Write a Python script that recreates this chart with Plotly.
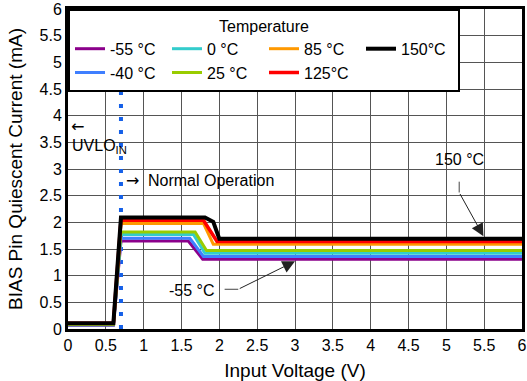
import plotly.graph_objects as go

# ---- data ----
temps = ["-55 °C", "-40 °C", "0 °C", "25 °C", "85 °C", "125°C", "150°C"]
colors = ["#8B008B", "#3F7FFF", "#33CCCC", "#99CC00", "#FF9900", "#FF0000", "#000000"]
widths = [3, 3, 3, 3, 3, 3.5, 4]
legend_rank = [1, 5, 2, 6, 3, 7, 4]

v_m55 = [0, 0.6, 0.7, 1.59, 1.78, 6]
i_m55 = [0.07, 0.07, 1.65, 1.65, 1.31, 1.31]
v_m40 = [0, 0.6, 0.7, 1.61, 1.79, 6]
i_m40 = [0.08, 0.08, 1.70, 1.70, 1.36, 1.36]
v_0 = [0, 0.6, 0.7, 1.66, 1.81, 6]
i_0 = [0.08, 0.08, 1.77, 1.77, 1.42, 1.42]
v_25 = [0, 0.6, 0.7, 1.68, 1.83, 6]
i_25 = [0.09, 0.09, 1.82, 1.82, 1.47, 1.47]
v_85 = [0, 0.6, 0.7, 1.79, 1.92, 6]
i_85 = [0.1, 0.1, 1.98, 1.98, 1.59, 1.59]
v_125 = [0, 0.6, 0.7, 1.79, 1.97, 6]
i_125 = [0.11, 0.11, 2.04, 2.04, 1.64, 1.64]
v_150 = [0, 0.6, 0.7, 1.81, 1.92, 2.0, 6]
i_150 = [0.11, 0.11, 2.09, 2.09, 2.01, 1.69, 1.69]

volts = [v_m55, v_m40, v_0, v_25, v_85, v_125, v_150]
currents = [i_m55, i_m40, i_0, i_25, i_85, i_125, i_150]

uvlo_v = [0.7, 0.7]
uvlo_i = [0, 6]

x_ticks = [0, 0.5, 1, 1.5, 2, 2.5, 3, 3.5, 4, 4.5, 5, 5.5, 6]
y_ticks = [0, 0.5, 1, 1.5, 2, 2.5, 3, 3.5, 4, 4.5, 5, 5.5, 6]

FONT = "Liberation Sans, Arial, sans-serif"
ARROW_FONT = "DejaVu Sans, sans-serif"

fig = go.Figure()

fig.add_trace(go.Scatter(
    x=uvlo_v, y=uvlo_i, mode="lines", showlegend=False, hoverinfo="skip",
    line=dict(color="#1560E8", width=4, dash="4px,9px"),
))

for name, c, w, r, xs, ys in zip(temps, colors, widths, legend_rank, volts, currents):
    fig.add_trace(go.Scatter(
        x=xs, y=ys, mode="lines", name=name, legendrank=r,
        line=dict(color=c, width=w),
    ))

annos = [
    dict(x=5.18, y=3.17, text="150 °C", showarrow=False, font=dict(size=16)),
    dict(x=1.64, y=0.73, text="-55 °C", showarrow=False, font=dict(size=16)),
    dict(x=0.01, y=3.8, text="←", showarrow=False, xanchor="left",
         font=dict(size=16, family=ARROW_FONT)),
    dict(x=0.02, y=3.43, text="UVLO<sub>IN</sub>", showarrow=False, xanchor="left", font=dict(size=16)),
    dict(x=0.74, y=2.79, text="→", showarrow=False, xanchor="left",
         font=dict(size=16, family=ARROW_FONT)),
    dict(x=1.03, y=2.79, text="Normal Operation", showarrow=False, xanchor="left", font=dict(size=16)),
    # 150 °C arrow
    dict(x=5.17, y=2.56, ax=5.17, ay=2.79, axref="x", ayref="y", text="", showarrow=True,
         arrowhead=0, arrowwidth=1, arrowcolor="#444"),
    dict(x=5.49, y=1.74, ax=5.17, ay=2.56, axref="x", ayref="y", text="", showarrow=True,
         arrowhead=2, arrowsize=2.5, arrowwidth=1, arrowcolor="#222"),
    # -55 °C arrow
    dict(x=2.25, y=0.745, ax=2.05, ay=0.745, axref="x", ayref="y", text="", showarrow=True,
         arrowhead=0, arrowwidth=1, arrowcolor="#444"),
    dict(x=3.0, y=1.27, ax=2.25, ay=0.745, axref="x", ayref="y", text="", showarrow=True,
         arrowhead=2, arrowsize=2.5, arrowwidth=1, arrowcolor="#222"),
]

fig.update_layout(
    width=527, height=381,
    margin=dict(l=68, r=5, t=9, b=52, autoexpand=False),
    paper_bgcolor="white", plot_bgcolor="white",
    font=dict(family=FONT, size=16, color="black"),
    annotations=annos,
    legend=dict(
        orientation="h", x=0, y=1, xanchor="left", yanchor="top",
        bgcolor="white", bordercolor="black", borderwidth=2,
        entrywidth=52, entrywidthmode="pixels",
        title=dict(text="Temperature", side="top center", font=dict(size=16)),
        font=dict(size=16), tracegroupgap=0,
    ),
    xaxis=dict(
        range=[0, 6], tickvals=x_ticks, ticktext=[f"{v:g}" for v in x_ticks],
        showgrid=True, gridcolor="#555", gridwidth=1,
        showline=True, linecolor="black", linewidth=3, mirror=True,
        ticks="", zeroline=False, automargin=False,
        title=dict(text="Input Voltage (V)"),
    ),
    yaxis=dict(
        range=[0, 6], tickvals=y_ticks, ticktext=[f"{v:g}" for v in y_ticks],
        showgrid=True, gridcolor="#555", gridwidth=1,
        showline=True, linecolor="black", linewidth=3, mirror=True,
        ticks="", zeroline=False, automargin=False,
        title=dict(text="BIAS Pin Quiescent Current (mA)", standoff=12),
    ),
)

fig.write_html("out.html", config={"displayModeBar": False},
               post_script="document.body.style.margin='0';")
